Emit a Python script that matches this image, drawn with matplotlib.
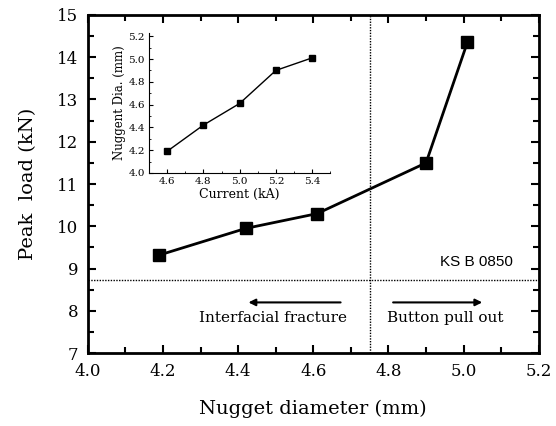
import matplotlib
matplotlib.use("Agg")
import matplotlib.pyplot as plt
from matplotlib.ticker import MultipleLocator

# main data: nugget diameter vs peak load
diameter = [4.19, 4.42, 4.61, 4.90, 5.01]
peak_load = [9.32, 9.95, 10.30, 11.50, 14.35]

# inset data: welding current vs nugget diameter
current = [4.6, 4.8, 5.0, 5.2, 5.4]
nugget_dia = [4.19, 4.42, 4.61, 4.90, 5.01]

ks_limit = 8.72
transition = 4.75

plt.rcParams['font.family'] = ['DejaVu Serif']

fig = plt.figure(figsize=(5.56, 4.26), dpi=100)
ax = fig.add_axes([0.158, 0.171, 0.811, 0.794])

ax.plot(diameter, peak_load, color='black', lw=2.0, marker='s', ms=8, mfc='black')
ax.axhline(ks_limit, color='black', lw=1.0, ls=(0, (1, 1)))
ax.axvline(transition, color='black', lw=1.0, ls=(0, (1, 1)))

ax.set_xlim(4.0, 5.2)
ax.set_ylim(7, 15)
ax.xaxis.set_major_locator(MultipleLocator(0.2))
ax.xaxis.set_minor_locator(MultipleLocator(0.1))
ax.yaxis.set_major_locator(MultipleLocator(1))
ax.yaxis.set_minor_locator(MultipleLocator(0.5))
ax.tick_params(which='both', direction='in', top=True, right=True, width=1.5)
ax.tick_params(which='major', length=6, labelsize=12, pad=7)
ax.tick_params(which='minor', length=4)
ax.xaxis.set_major_formatter(matplotlib.ticker.FormatStrFormatter('%.1f'))
for s in ax.spines.values():
    s.set_linewidth(2)

ax.set_xlabel('Nugget diameter (mm)', fontsize=14, labelpad=14)
ax.set_ylabel('Peak  load (kN)', fontsize=14, labelpad=14)

ax.text(5.035, 9.15, 'KS B 0850', fontsize=11, family='Liberation Sans', ha='center', va='center')
ax.text(4.494, 7.82, 'Interfacial fracture', fontsize=11, ha='center', va='center')
ax.text(4.95, 7.82, 'Button pull out', fontsize=11, ha='center', va='center')
ax.annotate('', xy=(4.42, 8.2), xytext=(4.68, 8.2),
            arrowprops=dict(arrowstyle='-|>', color='black', lw=1.5, mutation_scale=10))
ax.annotate('', xy=(5.057, 8.2), xytext=(4.805, 8.2),
            arrowprops=dict(arrowstyle='-|>', color='black', lw=1.5, mutation_scale=10))

# inset
ins = fig.add_axes([0.268, 0.594, 0.326, 0.329])
ins.plot(current, nugget_dia, color='black', lw=1.0, marker='s', ms=5, mfc='black')
ins.set_xlim(4.5, 5.5)
ins.set_ylim(4.0, 5.23)
ins.spines['top'].set_visible(False)
ins.spines['right'].set_visible(False)
ins.xaxis.set_major_locator(MultipleLocator(0.2))
ins.xaxis.set_minor_locator(MultipleLocator(0.1))
ins.yaxis.set_major_locator(MultipleLocator(0.2))
ins.yaxis.set_minor_locator(MultipleLocator(0.1))
ins.tick_params(which='both', direction='in', labelsize=7.5, pad=3)
ins.tick_params(which='major', length=3)
ins.tick_params(which='minor', length=1.5)
ins.xaxis.set_major_formatter(matplotlib.ticker.FormatStrFormatter('%.1f'))
ins.yaxis.set_major_formatter(matplotlib.ticker.FormatStrFormatter('%.1f'))
ins.set_xlabel('Current (kA)', fontsize=9, labelpad=1)
ins.set_ylabel('Nuggent Dia. (mm)', fontsize=8.5, labelpad=2)

fig.savefig('out.png', dpi=100)
